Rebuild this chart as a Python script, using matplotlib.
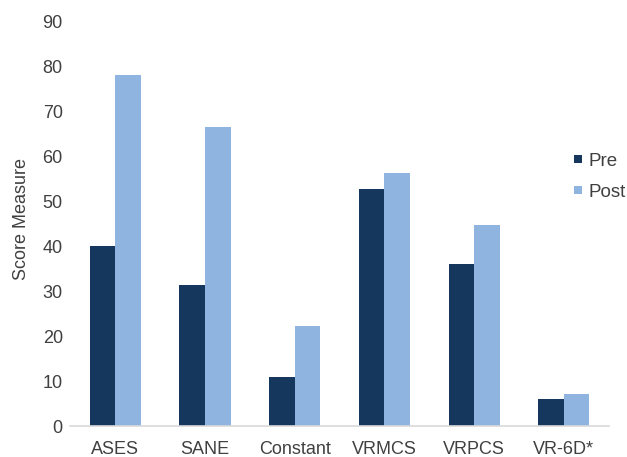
import numpy as np
import matplotlib
matplotlib.use('Agg')
import matplotlib.pyplot as plt

plt.rcParams['font.family'] = ['Liberation Sans', 'DejaVu Sans']

# Data
categories = ['ASES', 'SANE', 'Constant', 'VRMCS', 'VRPCS', 'VR-6D*']
pre_scores = [40.0, 31.3, 10.9, 52.6, 35.9, 5.9]
post_scores = [78.0, 66.4, 22.2, 56.2, 44.7, 7.1]

pre_color = '#15375D'
post_color = '#8EB4DF'
text_color = '#404040'

fig = plt.figure(figsize=(6.27, 4.57), dpi=100)
ax = fig.add_axes([0.1124, 0.0678, 0.8584, 0.8862])

x = np.arange(len(categories))
width = 0.285
ax.bar(x - width / 2, pre_scores, width, color=pre_color, label='Pre')
ax.bar(x + width / 2, post_scores, width, color=post_color, label='Post')

ax.set_xlim(-0.5, len(categories) - 0.5)
ax.set_ylim(0, 90)
ax.set_yticks(range(0, 91, 10))
ax.set_xticks(x)
ax.set_xticklabels(categories)

for side in ['top', 'right', 'left']:
    ax.spines[side].set_visible(False)
ax.spines['bottom'].set_color('#D9D9D9')
ax.spines['bottom'].set_linewidth(1.2)

ax.tick_params(axis='both', length=0, labelsize=13, colors=text_color)
ax.tick_params(axis='y', pad=5.5)
ax.tick_params(axis='x', pad=10.5)

ax.set_ylabel('Score Measure', fontsize=13, color=text_color)
ax.yaxis.set_label_coords(-0.075, 0.51)

leg = fig.legend(loc='center left', bbox_to_anchor=(0.9155, 0.613), frameon=False,
                 fontsize=13.5, handlelength=0.42, handleheight=0.24,
                 handletextpad=0.35, labelspacing=0.75, borderaxespad=0,
                 borderpad=0)
for t in leg.get_texts():
    t.set_color(text_color)

fig.savefig('out.png', dpi=100)
